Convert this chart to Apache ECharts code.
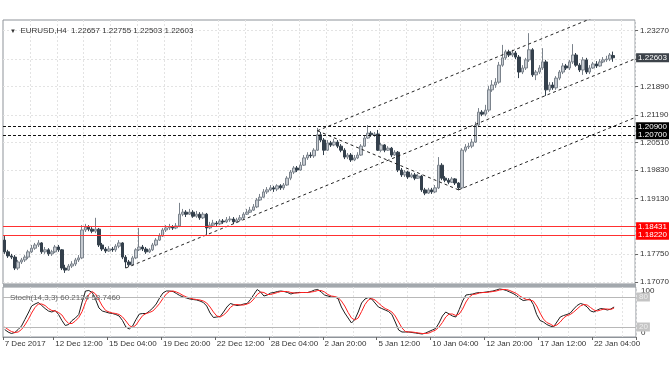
<!DOCTYPE html>
<html><head><meta charset="utf-8">
<script src="https://cdn.jsdelivr.net/npm/echarts@6/dist/echarts.min.js"></script>
<style>html,body{margin:0;padding:0;background:#fff}#c{width:672px;height:372px}</style>
</head><body><div id="c"></div>
<script>
// ---- data ----
const symbolTitle = 'EURUSD,H4';
const lastOHLC = ['1.22657', '1.22755', '1.22503', '1.22603'];
const stochTitle = 'Stoch(14,3,3)';
const stochLast = ['60.2124', '58.7460'];

// [open, close, low, high]
const candles = [
[1.1810,1.1781,1.1776,1.1820],[1.1781,1.1771,1.1766,1.1786],[1.1771,1.1768,1.1763,1.1776],[1.1768,1.1741,1.1736,1.1773],
[1.1741,1.1756,1.1736,1.1761],[1.1756,1.1761,1.1751,1.1766],[1.1761,1.1768,1.1756,1.1773],[1.1768,1.1781,1.1763,1.1786],
[1.1781,1.1790,1.1778,1.1798],[1.1790,1.1798,1.1786,1.1803],[1.1798,1.1803,1.1793,1.1810],[1.1803,1.1781,1.1776,1.1805],
[1.1781,1.1786,1.1776,1.1793],[1.1786,1.1776,1.1771,1.1790],[1.1776,1.1781,1.1771,1.1786],[1.1781,1.1793,1.1778,1.1798],
[1.1793,1.1786,1.1781,1.1798],[1.1786,1.1741,1.1736,1.1788],[1.1741,1.1736,1.1729,1.1749],[1.1736,1.1746,1.1734,1.1751],
[1.1746,1.1751,1.1741,1.1758],[1.1751,1.1761,1.1746,1.1766],[1.1761,1.1766,1.1756,1.1773],[1.1766,1.1835,1.1763,1.1847],
[1.1835,1.1842,1.1830,1.1850],[1.1842,1.1837,1.1832,1.1847],[1.1837,1.1832,1.1827,1.1842],[1.1832,1.1837,1.1827,1.1865],
[1.1837,1.1798,1.1793,1.1840],[1.1798,1.1788,1.1783,1.1803],[1.1788,1.1783,1.1778,1.1793],[1.1783,1.1788,1.1781,1.1795],
[1.1788,1.1786,1.1781,1.1793],[1.1786,1.1795,1.1781,1.1800],[1.1795,1.1803,1.1790,1.1810],[1.1803,1.1768,1.1763,1.1805],
[1.1768,1.1756,1.1741,1.1773],[1.1756,1.1749,1.1744,1.1761],[1.1749,1.1766,1.1746,1.1771],[1.1766,1.1786,1.1763,1.1790],
[1.1786,1.1793,1.1783,1.1840],[1.1793,1.1788,1.1783,1.1798],[1.1788,1.1781,1.1776,1.1793],[1.1781,1.1786,1.1778,1.1790],
[1.1786,1.1798,1.1783,1.1803],[1.1798,1.1810,1.1795,1.1815],[1.1810,1.1820,1.1808,1.1827],[1.1820,1.1835,1.1818,1.1840],
[1.1835,1.1840,1.1830,1.1847],[1.1840,1.1842,1.1835,1.1850],[1.1842,1.1840,1.1835,1.1847],[1.1840,1.1845,1.1837,1.1852],
[1.1845,1.1874,1.1842,1.1902],[1.1874,1.1879,1.1869,1.1887],[1.1879,1.1874,1.1867,1.1884],[1.1874,1.1879,1.1872,1.1887],
[1.1879,1.1869,1.1865,1.1884],[1.1869,1.1874,1.1865,1.1882],[1.1874,1.1865,1.1860,1.1879],[1.1865,1.1874,1.1862,1.1879],
[1.1874,1.1840,1.1823,1.1877],[1.1840,1.1847,1.1837,1.1855],[1.1847,1.1852,1.1845,1.1860],[1.1852,1.1850,1.1845,1.1857],
[1.1850,1.1857,1.1847,1.1862],[1.1857,1.1855,1.1850,1.1862],[1.1855,1.1860,1.1852,1.1867],[1.1860,1.1862,1.1855,1.1869],
[1.1862,1.1855,1.1850,1.1867],[1.1855,1.1860,1.1852,1.1865],[1.1860,1.1865,1.1857,1.1872],[1.1865,1.1874,1.1862,1.1879],
[1.1874,1.1879,1.1872,1.1887],[1.1879,1.1884,1.1877,1.1892],[1.1884,1.1892,1.1882,1.1899],[1.1892,1.1909,1.1889,1.1914],
[1.1909,1.1916,1.1907,1.1924],[1.1916,1.1929,1.1914,1.1936],[1.1929,1.1934,1.1924,1.1941],[1.1934,1.1939,1.1931,1.1946],
[1.1939,1.1936,1.1929,1.1944],[1.1936,1.1944,1.1931,1.1948],[1.1944,1.1939,1.1934,1.1948],[1.1939,1.1946,1.1934,1.1951],
[1.1946,1.1963,1.1944,1.1968],[1.1963,1.1978,1.1958,1.1983],[1.1978,1.1988,1.1973,1.1993],[1.1988,1.1983,1.1978,1.1993],
[1.1983,1.1995,1.1981,1.2003],[1.1995,1.2013,1.1993,1.2020],[1.2013,1.2020,1.2008,1.2027],[1.2020,1.2018,1.2013,1.2027],
[1.2018,1.2032,1.2013,1.2037],[1.2032,1.2070,1.2030,1.2087],[1.2070,1.2057,1.2052,1.2077],[1.2057,1.2032,1.2020,1.2062],
[1.2032,1.2050,1.2030,1.2057],[1.2050,1.2045,1.2040,1.2055],[1.2045,1.2052,1.2042,1.2060],[1.2052,1.2042,1.2037,1.2057],
[1.2042,1.2032,1.2027,1.2047],[1.2032,1.2015,1.2010,1.2037],[1.2015,1.2020,1.2010,1.2025],[1.2020,1.2008,1.2003,1.2025],
[1.2008,1.2013,1.2005,1.2020],[1.2013,1.2020,1.2010,1.2027],[1.2020,1.2042,1.2018,1.2047],[1.2042,1.2062,1.2040,1.2067],
[1.2062,1.2074,1.2060,1.2094],[1.2074,1.2070,1.2065,1.2079],[1.2070,1.2072,1.2065,1.2077],[1.2072,1.2032,1.2030,1.2082],
[1.2032,1.2045,1.2027,1.2050],[1.2045,1.2032,1.2027,1.2047],[1.2032,1.2037,1.2030,1.2042],[1.2037,1.2020,1.2015,1.2040],
[1.2020,1.2027,1.2018,1.2032],[1.2027,1.1983,1.1978,1.2030],[1.1983,1.1971,1.1966,1.1988],[1.1971,1.1978,1.1966,1.1983],
[1.1978,1.1966,1.1961,1.1981],[1.1966,1.1971,1.1963,1.1976],[1.1971,1.1963,1.1958,1.1976],[1.1963,1.1968,1.1961,1.1973],
[1.1968,1.1934,1.1929,1.1971],[1.1934,1.1926,1.1921,1.1939],[1.1926,1.1934,1.1924,1.1939],[1.1934,1.1929,1.1924,1.1939],
[1.1929,1.1939,1.1926,1.1946],[1.1939,1.1995,1.1936,1.2015],[1.1995,1.1963,1.1958,1.2000],[1.1963,1.1958,1.1953,1.1968],
[1.1958,1.1953,1.1948,1.1963],[1.1953,1.1961,1.1951,1.1966],[1.1961,1.1951,1.1946,1.1963],[1.1951,1.1939,1.1934,1.1953],
[1.1939,1.2032,1.1936,1.2037],[1.2032,1.2040,1.2027,1.2047],[1.2040,1.2042,1.2035,1.2050],[1.2042,1.2052,1.2037,1.2060],
[1.2052,1.2094,1.2050,1.2102],[1.2094,1.2126,1.2089,1.2136],[1.2126,1.2121,1.2116,1.2131],[1.2121,1.2131,1.2116,1.2144],
[1.2131,1.2181,1.2126,1.2191],[1.2181,1.2193,1.2176,1.2205],[1.2193,1.2200,1.2186,1.2210],[1.2200,1.2242,1.2196,1.2250],
[1.2242,1.2260,1.2238,1.2292],[1.2260,1.2275,1.2255,1.2280],[1.2275,1.2267,1.2262,1.2280],[1.2267,1.2272,1.2262,1.2280],
[1.2272,1.2262,1.2257,1.2277],[1.2262,1.2225,1.2210,1.2267],[1.2225,1.2235,1.2220,1.2242],[1.2235,1.2255,1.2230,1.2260],
[1.2255,1.2280,1.2250,1.2321],[1.2280,1.2218,1.2213,1.2284],[1.2218,1.2225,1.2205,1.2230],[1.2225,1.2235,1.2220,1.2242],
[1.2235,1.2250,1.2230,1.2284],[1.2250,1.2181,1.2166,1.2255],[1.2181,1.2193,1.2176,1.2200],[1.2193,1.2186,1.2181,1.2200],
[1.2186,1.2210,1.2181,1.2215],[1.2210,1.2225,1.2205,1.2230],[1.2225,1.2240,1.2220,1.2247],[1.2240,1.2235,1.2230,1.2245],
[1.2235,1.2250,1.2230,1.2255],[1.2250,1.2267,1.2245,1.2294],[1.2267,1.2242,1.2238,1.2272],[1.2242,1.2230,1.2225,1.2247],
[1.2230,1.2255,1.2218,1.2262],[1.2255,1.2225,1.2220,1.2260],[1.2225,1.2235,1.2220,1.2242],[1.2235,1.2245,1.2233,1.2250],
[1.2245,1.2240,1.2235,1.2252],[1.2240,1.2250,1.2238,1.2257],[1.2250,1.2255,1.2247,1.2262],[1.2255,1.2257,1.2250,1.2265],
[1.2257,1.2267,1.2252,1.2272],[1.22657,1.22603,1.22503,1.22755]
];

const stochK = [15,10,7,9,15,22,35,48,62,66, 69,63,57,52,50,53,45,33,23,25, 33,38,45,70,92,93,89,75,58,52,
 50,48,47,45,42,33,20,16,22,35, 46,47,47,52,58,66,78,88,92,92, 91,87,83,80,78,76,75,74,72,69,
 62,48,39,40,41,50,60,67,65,63, 64,66,67,75,85,95,90,82,84,88, 89,91,92,91,89,86,88,89,89,89,
 89,91,94,95,90,84,82,80,80,77, 60,48,38,28,35,50,68,76,79,76, 68,60,57,54,51,45,30,14,10,10,
 10,9,8,7,6,8,11,14,17,28, 42,50,46,42,40,55,72,84,85,86, 88,89,89,90,91,92,94,96,95,93,
 90,87,83,77,73,74,76,65,45,33, 30,25,22,20,30,40,43,45,48,56, 63,67,65,60,52,50,54,57,56,54,
 56,60];
const stochD = [20,15,11,9,10,15,24,35,48,59, 66,66,63,57,53,52,49,44,34,27, 27,32,39,51,69,85,91,86,74,62,
 53,50,48,47,45,40,32,23,19,24, 34,43,47,49,52,59,67,77,86,91, 92,90,87,83,80,78,76,75,74,72,
 68,60,50,42,40,44,50,59,64,65, 64,64,66,69,76,85,90,89,85,85, 87,89,91,91,91,89,88,88,89,89,
 89,90,91,93,93,90,85,82,81,79, 72,62,49,38,34,38,51,65,74,77, 74,68,62,57,54,50,42,30,18,11,
 10,10,9,8,7,7,8,11,14,20, 29,40,46,46,43,46,56,70,80,85, 86,88,89,89,90,91,92,94,95,95,
 93,90,87,82,78,75,74,72,62,48, 36,29,26,22,24,30,38,43,45,50, 56,62,65,64,59,54,52,54,56,56,
 55,58];

const priceTicks = [1.17070, 1.17750, 1.18450, 1.19130, 1.19830, 1.20510, 1.21190, 1.21890, 1.22570, 1.23270];
const timeLabels = ['7 Dec 2017','12 Dec 12:00','15 Dec 04:00','19 Dec 20:00','22 Dec 12:00','28 Dec 04:00',
  '2 Jan 20:00','5 Jan 12:00','10 Jan 04:00','12 Jan 20:00','17 Jan 12:00','22 Jan 04:00'];
const timeLabelBars = [0, 15, 31, 47, 63, 79, 95, 111, 127, 143, 159, 175];
const barSlots = 188;           // 182 bars + empty shift space on the right
const dashedLevels = [1.20900, 1.20700];
const redLevels = [1.18431, 1.18220];
const lastPrice = 1.22603;
const upperChannel = [[93, 1.2080], [187, 1.2400]];
const middleChannel = [[36, 1.1741], [187, 1.2256]];
const lowerChannel = [[135, 1.1934], [187, 1.2111]];
const fallingLine = [[93, 1.2080], [135, 1.1934]];
const stochLevels = [80, 20];

// ---- chart ----
const FONT = 'Liberation Sans';
const cats = Array.from({length: barSlots}, (_, i) => String(i));
const labelMap = {};
timeLabelBars.forEach((b, k) => { labelMap[b] = timeLabels[k]; });
const isLabelBar = (i) => labelMap[i] !== undefined;
const isGridBar = (i) => i > 0 && i % 8 === 0;
const gridLine = {show: true, interval: isGridBar, lineStyle: {color: '#e3e3e3', type: [2, 2], width: 1}};
const border = '#8e9399';

function levelSeries(name, value, bg, lineStyle) {
  return {type: 'line', name: name, xAxisIndex: 0, yAxisIndex: 0, data: [], symbol: 'none', silent: true, z: 4,
    markLine: {silent: true, symbol: ['none', 'none'], animation: false, precision: 5,
      data: [{yAxis: value}],
      lineStyle: lineStyle,
      label: {show: true, position: 'end', distance: 1, formatter: value.toFixed(5),
        backgroundColor: bg, color: '#fff', fontSize: 8, fontFamily: FONT, padding: [1, 2, 0, 2]}}};
}
function channel(name, pts) {
  return {type: 'line', name: name, xAxisIndex: 0, yAxisIndex: 0, data: pts, symbol: 'none',
    silent: true, clip: true, lineStyle: {color: '#222', width: 1, type: [3, 3]}, z: 3};
}

const chart = echarts.init(document.getElementById('c'), null, {renderer: 'canvas'});
chart.setOption({
  animation: false,
  backgroundColor: '#ffffff',
  title: [
    {text: '{t|▼}  ' + symbolTitle + '  ' + lastOHLC.join(' '), left: 5, top: 22,
      textStyle: {fontSize: 8, fontWeight: 'normal', color: '#333', fontFamily: FONT,
        rich: {t: {fontSize: 6, color: '#333'}}}},
    {text: stochTitle + ' ' + stochLast.join(' '), left: 5, top: 289,
      textStyle: {fontSize: 8, fontWeight: 'normal', color: '#666', fontFamily: FONT}}
  ],
  graphic: [
    {type: 'rect', left: 3, top: 284, shape: {width: 633, height: 3}, style: {fill: '#a3a8ad'}, silent: true}
  ],
  grid: [
    {left: 3, right: 36, top: 20, height: 264, show: true, borderColor: border, borderWidth: 1},
    {left: 3, right: 36, top: 287, height: 50, show: true, borderColor: border, borderWidth: 1}
  ],
  xAxis: [
    {type: 'category', gridIndex: 0, data: cats, boundaryGap: true,
      axisLine: {show: false}, axisTick: {show: false}, axisLabel: {show: false}, splitLine: gridLine},
    {type: 'category', gridIndex: 1, data: cats, boundaryGap: true,
      axisLine: {show: true, lineStyle: {color: border}},
      axisTick: {show: true, interval: isLabelBar, length: 3, lineStyle: {color: '#666'}},
      axisLabel: {show: true, interval: isLabelBar, formatter: (v, i) => labelMap[i] || '',
        align: 'left', fontSize: 8, color: '#333', fontFamily: FONT, margin: 3},
      splitLine: gridLine}
  ],
  yAxis: [
    {type: 'value', gridIndex: 0, position: 'right', min: 1.17016, max: 1.23535, scale: true,
      axisLine: {show: false},
      axisTick: {show: true, customValues: priceTicks, length: 3, lineStyle: {color: '#666'}},
      axisLabel: {show: true, customValues: priceTicks, formatter: (v) => v.toFixed(5),
        fontSize: 8, color: '#333', fontFamily: FONT, margin: 5},
      splitLine: {show: true, lineStyle: {color: '#e3e3e3', type: [2, 2], width: 1}}},
    {type: 'value', gridIndex: 1, position: 'right', min: 0, max: 100,
      axisLine: {show: false},
      axisTick: {show: false},
      axisLabel: {show: true, customValues: [0, 100], fontSize: 8, color: '#333', fontFamily: FONT, margin: 5,
        verticalAlignMinLabel: 'bottom', verticalAlignMaxLabel: 'top'},
      splitLine: {show: false}}
  ],
  series: [
    {type: 'candlestick', xAxisIndex: 0, yAxisIndex: 0, data: candles, barWidth: 3,
      itemStyle: {color: '#c6cbd1', color0: '#34404c', borderColor: '#7b838c', borderColor0: '#34404c', borderWidth: 1}},
    channel('upper', upperChannel),
    channel('middle', middleChannel),
    channel('lower', lowerChannel),
    channel('falling', fallingLine),
    levelSeries('l1', dashedLevels[0], '#000', {color: '#111', type: [3, 2], width: 1}),
    levelSeries('l2', dashedLevels[1], '#000', {color: '#111', type: [3, 2], width: 1}),
    levelSeries('r1', redLevels[0], '#ff0000', {color: '#ff3030', type: 'solid', width: 1}),
    levelSeries('r2', redLevels[1], '#ff0000', {color: '#ff3030', type: 'solid', width: 1}),
    levelSeries('last', lastPrice, '#3d434a', {color: 'rgba(0,0,0,0)', type: 'solid', width: 1}),
    {type: 'line', name: '%K', xAxisIndex: 1, yAxisIndex: 1, data: stochK, symbol: 'none', silent: true,
      lineStyle: {color: '#1e1e1e', width: 1},
      markLine: {silent: true, symbol: ['none', 'none'], animation: false,
        data: stochLevels.map(v => ({yAxis: v,
          label: {show: true, position: 'end', distance: 1, formatter: String(v), backgroundColor: '#c4c4c4',
            color: '#eee', fontSize: 8, fontFamily: FONT, padding: [1, 2, 0, 2]}})),
        lineStyle: {color: '#b8b8b8', type: 'solid', width: 1}}},
    {type: 'line', name: '%D', xAxisIndex: 1, yAxisIndex: 1, data: stochD, symbol: 'none', silent: true,
      lineStyle: {color: '#ff2020', width: 1}}
  ]
});
</script>
</body></html>
